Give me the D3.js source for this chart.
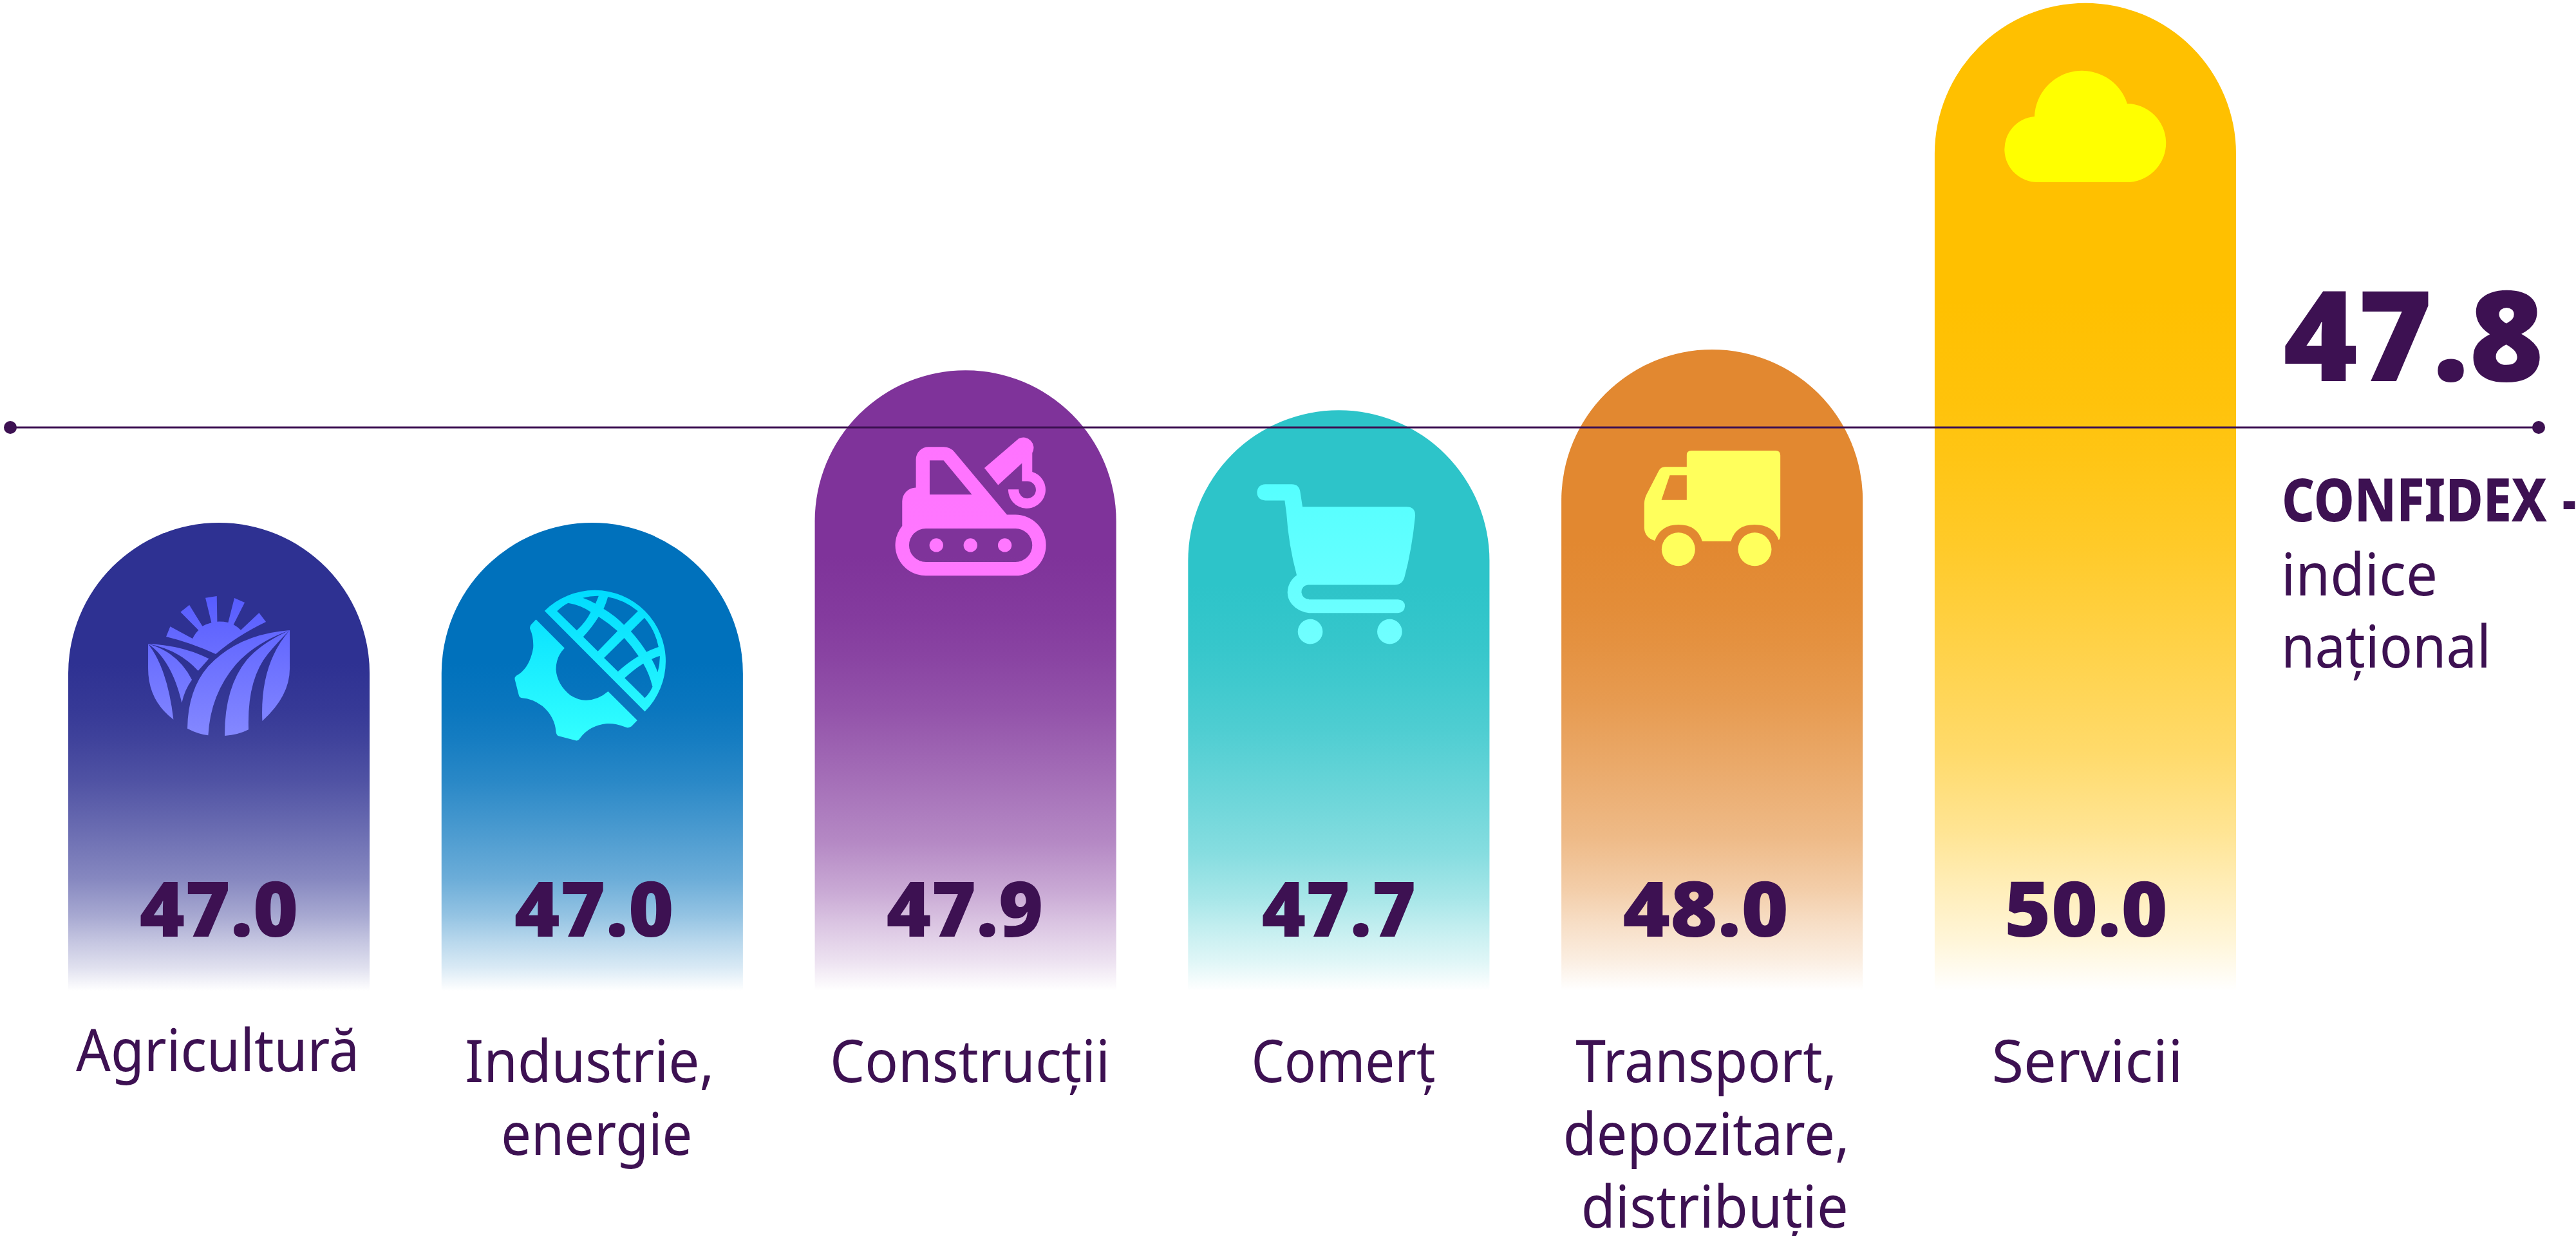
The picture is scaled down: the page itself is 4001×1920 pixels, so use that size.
<!DOCTYPE html>
<html>
<head>
<meta charset="utf-8">
<title>CONFIDEX</title>
<script src="https://cdnjs.cloudflare.com/ajax/libs/d3/7.8.5/d3.min.js"></script>
<style>
  html, body { margin: 0; padding: 0; background: #fff; overflow: hidden; }
  svg { display: block; }
  text { font-family: "Noto Sans", sans-serif; fill: #3d1152; }
</style>
</head>
<body>
<svg id="chart" width="4001" height="1920"></svg>
<script>
const categories = ["Agricultură", "Industrie, energie", "Construcții", "Comerț", "Transport, depozitare, distribuție", "Servicii"];
const categoryLines = [["Agricultură"], ["Industrie,", "energie"], ["Construcții"], ["Comerț"], ["Transport,", "depozitare,", "distribuție"], ["Servicii"]];
const valueLabels = ["47.0", "47.0", "47.9", "47.7", "48.0", "50.0"];
// heights as drawn in the picture, they do not follow the printed numbers exactly
const barLevels = [47.0, 47.0, 47.88, 47.65, 48.0, 50.0];
const barColors = ["#2e3192", "#0071bc", "#7f339a", "#2dc4c9", "#e28830", "#ffc000"];
const nationalValue = "47.8";
const nationalLineLevel = 47.55;
const nationalLabel = ["CONFIDEX", "-", "indice", "național"];

// white fade shared by all bars: [offset, opacity]
const fadeStops = [[0, 1], [0.3, 1], [0.4, 0.96], [0.46, 0.92], [0.55, 0.84], [0.65, 0.72], [0.76, 0.58], [0.84, 0.42], [0.89, 0.29], [0.95, 0.15], [1, 0]];

const ink = "#3d1152";
const barBottom = 1539;
const svg = d3.select("#chart");
const defs = svg.append("defs");

const x = d3.scaleBand().domain(categories).range([106, 3473]).paddingInner(0.1926);
const y = d3.scaleLinear().domain([47, 50]).range([812, 5]);
const bw = x.bandwidth();
const r = bw / 2;

barColors.forEach((c, i) => {
  const g = defs.append("linearGradient").attr("id", "bar" + i).attr("x1", 0).attr("y1", 0).attr("x2", 0).attr("y2", 1);
  fadeStops.forEach(s => g.append("stop").attr("offset", s[0]).attr("stop-color", c).attr("stop-opacity", s[1]));
});

const archPath = (cat, level) => {
  const p = d3.path();
  const x0 = x(cat);
  p.moveTo(x0, barBottom);
  p.lineTo(x0, y(level) + r);
  p.arc(x0 + r, y(level) + r, r, Math.PI, 2 * Math.PI);
  p.lineTo(x0 + bw, barBottom);
  p.closePath();
  return p.toString();
};

svg.selectAll("path.bar")
  .data(categories)
  .join("path")
  .attr("class", "bar")
  .attr("d", (d, i) => archPath(d, barLevels[i]))
  .attr("fill", (d, i) => `url(#bar${i})`);

// icons. dx/dy are from bar centre and bar top, k is the trace scale
const icons = [
  { dx: -120, dy: 103, k: 1 / 3, top: "#575cff", bottom: "#8488ff",
    d: "M114 222L133 175L237 231Q250 205 265 192L181 107L222 74L283 173Q303 163 325 157L297 41L350 33L352 152Q378 151 403 156L432 42L480 63L428 166Q446 176 462 191L547 111L579 153Q440 220 345 303Q230 250 114 222Z" +
       "M30 256Q190 262 313 325L263 381Q170 280 30 256Z" +
       "M30 256Q170 295 234 423Q200 470 187 530Q140 330 30 256Z" +
       "M30 256Q120 370 148 608Q30 520 30 370Z" +
       "M690 192Q450 210 310 360Q215 470 213 650Q260 675 310 682Q320 490 440 350Q530 250 690 192Z" +
       "M690 192Q560 250 490 330Q385 460 387 684Q450 680 498 655Q490 420 590 300Q640 240 690 192Z" +
       "M690 192Q550 350 562 615Q690 500 690 370Z" },
  { dx: -134, dy: 88, k: 1 / 3, top: "#00dcff", bottom: "#33ffff",
    d: "M140 187L273 320Q233 360 233 420Q238 490 300 540Q340 565 375 563Q430 562 476 522L612 657L585 685Q570 696 555 688Q510 670 470 672Q390 680 345 740Q335 755 322 750L245 730Q235 725 233 710Q228 640 170 590Q120 555 75 553Q62 550 60 540L41 465Q40 455 50 448Q110 415 127 320Q130 270 112 230Q110 218 118 210Z" +
       "M180 147A328 328 0 0 1 647 616Z" +
       "M238 148L330 238Q375 195 395 152Q350 120 290 110Q265 122 238 148Z" +
       "M358 86Q395 76 432 77Q425 95 417 113Q390 97 358 86Z" +
       "M475 82Q550 95 615 148L550 212Q510 170 455 137Q468 110 475 82Z" +
       "M432 174Q480 205 520 241L428 335L360 268Q400 225 432 174Z" +
       "M645 179Q695 235 711 315Q680 325 655 338Q625 290 582 242Z" +
       "M551 273Q590 315 618 358Q565 390 522 430L457 366Z" +
       "M717 357Q718 395 707 433Q695 400 679 372Q698 362 717 357Z" +
       "M640 392Q668 440 683 500Q670 530 647 553L553 460Q595 420 640 392Z" },
  { dx: -119, dy: 95, k: 1 / 3, top: "#ff73ff", bottom: "#ff78ff",
    d: "M126 262V130A58 58 0 0 1 184 72H255Q285 72 305 95L550 388H590A142 142 0 0 1 590 672H172A142 142 0 0 1 62 440V325A63 63 0 0 1 126 262Z" +
       "M190 135H255L387 294H190Z" +
       "M172 452H590A78 78 0 0 1 590 608H172A78 78 0 0 1 172 452Z" +
       "M189 530a32 32 0 1 0 64 0a32 32 0 1 0 -64 0Z" +
       "M348 530a32 32 0 1 0 64 0a32 32 0 1 0 -64 0Z" +
       "M508 530a32 32 0 1 0 64 0a32 32 0 1 0 -64 0Z" +
       "M668 188A87 87 0 1 1 556 270H605A40 40 0 1 0 645 232H620V148L509 250L445 170L605 33A48 48 0 0 1 668 100Z" },
  { dx: -138, dy: 103, k: 1 / 3, top: "#55ffff", bottom: "#70ffff",
    d: "M72 36H195Q228 36 234 70L245 141H730Q772 141 770 185Q755 340 720 470Q710 505 675 505H270Q240 510 240 540Q245 572 280 573H690Q722 575 722 605Q720 635 690 636H275Q225 630 195 595Q175 570 175 540Q177 490 218 460Q180 320 170 170L162 112H72Q34 110 33 74Q35 38 72 36Z" +
       "M223 723a58 58 0 1 0 116 0a58 58 0 1 0 -116 0Z" +
       "M593 723a58 58 0 1 0 116 0a58 58 0 1 0 -116 0Z" },
  { dx: -118, dy: 147, k: 1 / 3, top: "#ffff5c", bottom: "#ffff5c",
    d: "M236 50Q236 30 258 30H650Q672 30 672 52V430Q672 440 665 448Q640 375 552 375Q465 375 442 452H308Q285 375 197 375Q115 375 87 450Q40 435 38 390V275Q40 250 50 232L105 125Q115 106 135 106H236Z" +
       "M157 145H236V260H118Z" +
       "M119 490a78 78 0 1 0 156 0a78 78 0 1 0 -156 0Z" +
       "M475 490a78 78 0 1 0 156 0a78 78 0 1 0 -156 0Z" },
  { dx: -125, dy: 105, k: 1, top: "#ffff00", bottom: "#ffff00",
    d: "M51 173A51.1 51.1 0 0 1 46 71A73.8 73.8 0 0 1 190 51A61.1 61.1 0 0 1 194 173Z" }
];

icons.forEach((ic, i) => {
  const g = defs.append("linearGradient").attr("id", "icon" + i).attr("x1", 0).attr("y1", 0).attr("x2", 0).attr("y2", 1);
  g.append("stop").attr("offset", 0).attr("stop-color", ic.top);
  g.append("stop").attr("offset", 1).attr("stop-color", ic.bottom);
  svg.append("path")
    .attr("d", ic.d)
    .attr("fill", `url(#icon${i})`)
    .attr("fill-rule", "evenodd")
    .attr("transform", `translate(${x(categories[i]) + r + ic.dx},${y(barLevels[i]) + ic.dy}) scale(${ic.k})`);
});

// value labels: [nudge from bar centre, fitted width]
const valueFit = [[0, 247], [3, 248], [-1, 244], [0, 240], [-10, 258], [1, 254]];
svg.selectAll("text.value")
  .data(valueLabels)
  .join("text")
  .attr("class", "value")
  .attr("x", (d, i) => x(categories[i]) + r + valueFit[i][0])
  .attr("y", 1455)
  .attr("text-anchor", "middle")
  .attr("font-size", 118)
  .attr("font-weight", 900)
  .attr("textLength", (d, i) => valueFit[i][1])
  .attr("lengthAdjust", "spacingAndGlyphs")
  .text(d => d);

// category labels: per line [nudge from bar centre, fitted width]
const labelFit = [
  [[-2, 440]],
  [[-4, 387], [7, 297]],
  [[7, 435]],
  [[7, 286]],
  [[-9, 406], [-9, 445], [4, 415]],
  [[3, 297]]
];
const labelTop = [1664, 1681, 1681, 1681, 1681, 1681];
categoryLines.forEach((lines, i) => {
  lines.forEach((line, j) => {
    svg.append("text")
      .attr("x", x(categories[i]) + r + labelFit[i][j][0])
      .attr("y", labelTop[i] + j * 113)
      .attr("text-anchor", "middle")
      .attr("font-size", 92)
      .attr("textLength", labelFit[i][j][1])
      .attr("lengthAdjust", "spacingAndGlyphs")
      .text(line);
  });
});

// national index line
const lineY = y(nationalLineLevel);
svg.append("line").attr("x1", 16).attr("x2", 3943).attr("y1", lineY).attr("y2", lineY).attr("stroke", ink).attr("stroke-width", 3);
svg.selectAll("circle.end").data([16, 3943]).join("circle").attr("class", "end")
  .attr("cx", d => d).attr("cy", lineY).attr("r", 10).attr("fill", ink);

svg.append("text").attr("x", 3546).attr("y", 592).attr("font-size", 196).attr("font-weight", 900)
  .attr("textLength", 405).attr("lengthAdjust", "spacingAndGlyphs").text(nationalValue);
svg.append("text").attr("x", 3544).attr("y", 810).attr("font-size", 92).attr("font-weight", 800)
  .attr("textLength", 412).attr("lengthAdjust", "spacingAndGlyphs").text(nationalLabel[0]);
// the dash runs into the right edge of the picture
svg.append("text").attr("x", 3980).attr("y", 810).attr("font-size", 92).attr("font-weight", 800)
  .attr("textLength", 21).attr("lengthAdjust", "spacingAndGlyphs").text(nationalLabel[1]);
svg.append("text").attr("x", 3543).attr("y", 925).attr("font-size", 92)
  .attr("textLength", 243).attr("lengthAdjust", "spacingAndGlyphs").text(nationalLabel[2]);
svg.append("text").attr("x", 3543).attr("y", 1037).attr("font-size", 92)
  .attr("textLength", 326).attr("lengthAdjust", "spacingAndGlyphs").text(nationalLabel[3]);
</script>
</body>
</html>
